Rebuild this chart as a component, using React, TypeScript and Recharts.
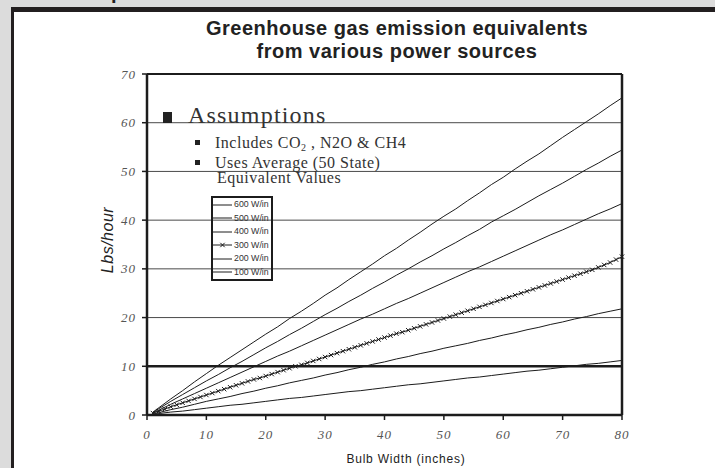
import React from 'react';
import { LineChart, Line, XAxis, YAxis, CartesianGrid, ReferenceLine, Legend } from 'recharts';

// bulb widths (inches) at which values were read
const fineWidths = [
    1, 2, 3, 4, 5, 6, 7, 8, 9, 10,
    11, 12, 13, 14, 15, 16, 17, 18, 19, 20,
    21, 22, 23, 24, 25, 26, 27, 28, 29, 30,
    31, 32, 33, 34, 35, 36, 37, 38, 39, 40,
    41, 42, 43, 44, 45, 46, 47, 48, 49, 50,
    51, 52, 53, 54, 55, 56, 57, 58, 59, 60,
    61, 62, 63, 64, 65, 66, 67, 68, 69, 70,
    71, 72, 73, 74, 75, 76, 77, 78, 79, 80,
];
const coarseWidths = [
    1, 2, 4, 6, 8, 10, 12, 14, 16, 18, 20, 22, 24, 26, 28, 30, 32, 34, 36, 38, 40,
    42, 44, 46, 48, 50, 52, 54, 56, 58, 60, 62, 64, 66, 68, 70, 72, 74, 76, 78, 80,
];

// lbs/hour
const w600 = [
    0.6, 1.5, 3.3, 5.0, 6.8, 8.5, 10.2, 11.8, 13.4, 15.0, 16.6, 18.1, 19.8, 21.3, 22.9, 24.6, 26.1, 27.8, 29.4, 31.0, 32.7,
    34.2, 35.9, 37.5, 39.2, 40.8, 42.3, 44.0, 45.6, 47.3, 48.8, 50.5, 52.1, 53.6, 55.3, 57.0, 58.6, 60.2, 61.8, 63.5, 65.1,
];
const w500 = [
    0.5, 1.3, 2.8, 4.2, 5.6, 7.0, 8.3, 9.7, 11.0, 12.4, 13.8, 15.1, 16.5, 17.8, 19.2, 20.6, 21.9, 23.3, 24.6, 26.0, 27.3,
    28.7, 30.0, 31.4, 32.7, 34.1, 35.4, 36.8, 38.1, 39.6, 40.9, 42.2, 43.6, 45.0, 46.3, 47.6, 49.0, 50.4, 51.7, 53.1, 54.4,
];
const w400 = [
    0.4, 1.0, 2.2, 3.3, 4.4, 5.5, 6.6, 7.7, 8.8, 9.9, 11.0, 12.1, 13.1, 14.2, 15.3, 16.4, 17.5, 18.6, 19.7, 20.7, 21.8,
    22.9, 23.9, 25.0, 26.1, 27.2, 28.3, 29.4, 30.4, 31.5, 32.6, 33.7, 34.8, 35.9, 37.0, 38.0, 39.1, 40.2, 41.3, 42.3, 43.4,
];
const w300 = [
    0.4, 0.8, 1.2, 1.7, 2.1, 2.5, 2.9, 3.3, 3.7, 4.1,
    4.5, 4.9, 5.3, 5.7, 6.1, 6.5, 6.9, 7.3, 7.6, 8.0,
    8.4, 8.8, 9.2, 9.6, 10.0, 10.3, 10.7, 11.1, 11.5, 11.9,
    12.3, 12.7, 13.1, 13.5, 13.9, 14.3, 14.7, 15.1, 15.5, 15.9,
    16.3, 16.7, 17.0, 17.4, 17.8, 18.2, 18.6, 19.0, 19.4, 19.8,
    20.2, 20.6, 21.0, 21.4, 21.8, 22.2, 22.6, 23.0, 23.4, 23.8,
    24.2, 24.6, 25.0, 25.4, 25.8, 26.2, 26.6, 27.0, 27.4, 27.8,
    28.2, 28.6, 29.0, 29.4, 29.8, 30.3, 30.8, 31.3, 31.9, 32.5,
];
const w200 = [
    0.2, 0.5, 1.1, 1.6, 2.2, 2.8, 3.3, 3.8, 4.4, 4.9, 5.5, 6.0, 6.6, 7.1, 7.6, 8.2, 8.7, 9.3, 9.8, 10.4, 10.9,
    11.5, 12.0, 12.6, 13.1, 13.7, 14.2, 14.7, 15.3, 15.8, 16.4, 16.9, 17.5, 18.0, 18.6, 19.1, 19.7, 20.2, 20.8, 21.3, 21.8,
];
const w100 = [
    0.1, 0.3, 0.6, 0.8, 1.1, 1.4, 1.7, 2.0, 2.2, 2.5, 2.8, 3.1, 3.4, 3.6, 3.9, 4.2, 4.5, 4.8, 5.0, 5.3, 5.6,
    5.9, 6.2, 6.4, 6.7, 7.0, 7.3, 7.6, 7.8, 8.1, 8.4, 8.7, 9.0, 9.2, 9.5, 9.8, 10.1, 10.4, 10.6, 10.9, 11.2,
];

const seriesNames = ['600 W/in', '500 W/in', '400 W/in', '300 W/in', '200 W/in', '100 W/in'];
const xTicks = [0, 10, 20, 30, 40, 50, 60, 70, 80];
const yTicks = [0, 10, 20, 30, 40, 50, 60, 70];

const series = [
    { name: seriesNames[0], widths: coarseWidths, values: w600, marker: false },
    { name: seriesNames[1], widths: coarseWidths, values: w500, marker: false },
    { name: seriesNames[2], widths: coarseWidths, values: w400, marker: false },
    { name: seriesNames[3], widths: fineWidths, values: w300, marker: true },
    { name: seriesNames[4], widths: coarseWidths, values: w200, marker: false },
    { name: seriesNames[5], widths: coarseWidths, values: w100, marker: false },
];

const INK = '#1c1c1c';
const SERIF = '"Liberation Serif", "DejaVu Serif", serif';
const SANS = '"Liberation Sans", Arial, sans-serif';

const crossPath = (cx: number, cy: number, s: number) =>
    `M${cx - s},${cy - s}L${cx + s},${cy + s}M${cx - s},${cy + s}L${cx + s},${cy - s}`;

const CrossDot = (props: any) => {
    const { cx, cy, index } = props;
    if (cx == null || cy == null) return <g key={`n-${index}`} />;
    return <path key={`x-${index}`} d={crossPath(cx, cy, 2.2)} stroke={INK} strokeWidth={1} fill="none" />;
};

// keep the legend in series order (600 at top)
const renderLegend = (props: any) => {
    const shown = new Set((props.payload || []).map((p: any) => p.value));
    return (
        <div style={{ border: `2px solid ${INK}`, width: 58, height: 81, boxSizing: 'content-box' }}>
            {series.filter((s) => shown.has(s.name)).map((s) => (
                <div key={s.name} style={{ display: 'flex', alignItems: 'center', height: 13.5 }}>
                    <svg width={19} height={8} style={{ display: 'block', flex: 'none' }}>
                        <line x1={0} y1={4} x2={19} y2={4} stroke={INK} strokeWidth={1} />
                        {s.marker ? <path d={crossPath(9.5, 4, 2.2)} stroke={INK} strokeWidth={1} /> : null}
                    </svg>
                    <span style={{ fontFamily: SANS, fontSize: 8.8, color: '#333', marginLeft: 2, lineHeight: 1, whiteSpace: 'nowrap' }}>
                        {s.name}
                    </span>
                </div>
            ))}
        </div>
    );
};

const tickStyle = { fontFamily: SERIF, fontStyle: 'italic', fontSize: 13, fill: '#555', letterSpacing: 1 };

export default function App() {
    return (
        <div style={{ position: 'fixed', left: 0, top: 0, width: 715, height: 468, background: '#dcdcdc', overflow: 'hidden' }}>
            <div style={{ position: 'absolute', left: 11, top: 7, right: 0, bottom: 0, background: '#231f20' }} />
            <div style={{ position: 'absolute', left: 13.5, top: 12, right: 0, bottom: 0, background: '#ffffff' }} />
            <div style={{ position: 'absolute', left: 0, top: 0 }}>
                <LineChart width={715} height={468} margin={{ top: 74, right: 93, bottom: 23, left: 0 }}>
                    <CartesianGrid horizontal vertical={false} stroke="#4a4a4a" strokeWidth={1} />
                    <XAxis
                        dataKey="width"
                        type="number"
                        domain={[0, 80]}
                        ticks={xTicks}
                        allowDuplicatedCategory={false}
                        height={30}
                        axisLine={{ stroke: INK, strokeWidth: 2.5 }}
                        tickLine={{ stroke: INK, strokeWidth: 1.5 }}
                        tickSize={5}
                        tickMargin={10}
                        tick={tickStyle}
                    />
                    <YAxis
                        type="number"
                        domain={[0, 70]}
                        ticks={yTicks}
                        width={147}
                        axisLine={{ stroke: INK, strokeWidth: 2.5 }}
                        tickLine={{ stroke: INK, strokeWidth: 1.5 }}
                        tickSize={5}
                        tickMargin={6}
                        tick={tickStyle}
                    />
                    <ReferenceLine y={10} stroke={INK} strokeWidth={2.5} />
                    <ReferenceLine y={70} stroke={INK} strokeWidth={2} />
                    <ReferenceLine x={80} stroke={INK} strokeWidth={2.5} />
                    {series.map((s) => (
                        <Line
                            key={s.name}
                            name={s.name}
                            data={s.widths.map((w, i) => ({ width: w, value: s.values[i] }))}
                            dataKey="value"
                            type="linear"
                            stroke={INK}
                            strokeWidth={1}
                            dot={s.marker ? CrossDot : false}
                            activeDot={false}
                            isAnimationActive={false}
                        />
                    ))}
                    <Legend
                        layout="vertical"
                        verticalAlign="middle"
                        align="center"
                        content={renderLegend}
                        wrapperStyle={{ left: 211, top: 196, width: 62, height: 85 }}
                    />
                </LineChart>
            </div>
            <svg width={715} height={468} style={{ position: 'absolute', left: 0, top: 0, pointerEvents: 'none' }}>
                <text x={111} y={-1.5} fontFamily={SANS} fontWeight="bold" fontSize={20} fill="#231f20">p</text>
                <text x={397} y={35} textAnchor="middle" fontFamily={SANS} fontWeight="bold" fontSize={20} letterSpacing={0.5} fill="#222">
                    Greenhouse gas emission equivalents
                </text>
                <text x={397} y={58} textAnchor="middle" fontFamily={SANS} fontWeight="bold" fontSize={20} letterSpacing={0.5} fill="#222">
                    from various power sources
                </text>
                <rect x={163} y={112} width={9} height={11} fill="#222" />
                <text x={188} y={123.3} fontFamily={SERIF} fontSize={24} letterSpacing={1.2} fill="#333">Assumptions</text>
                <rect x={195} y={140} width={5} height={5} fill="#222" />
                <text x={215} y={148.3} fontFamily={SERIF} fontSize={16} letterSpacing={0.5} fill="#333">
                    Includes CO<tspan fontSize={10} dy={3}>2</tspan><tspan dy={-3}> , N2O &amp; CH4</tspan>
                </text>
                <rect x={195} y={160} width={5} height={5} fill="#222" />
                <text x={215} y={167.7} fontFamily={SERIF} fontSize={16} letterSpacing={0.5} fill="#333">Uses Average (50 State)</text>
                <text x={217} y={183.3} fontFamily={SERIF} fontSize={16} letterSpacing={0.5} fill="#333">Equivalent Values</text>
                <text
                    transform="translate(113, 240) rotate(-90)"
                    textAnchor="middle"
                    fontFamily={SANS}
                    fontStyle="italic"
                    fontSize={16}
                    letterSpacing={0.5}
                    fill="#222"
                >
                    Lbs/hour
                </text>
                <text x={406} y={463} textAnchor="middle" fontFamily={SANS} fontSize={12} letterSpacing={0.8} fill="#222">
                    Bulb  Width (inches)
                </text>
            </svg>
        </div>
    );
}
